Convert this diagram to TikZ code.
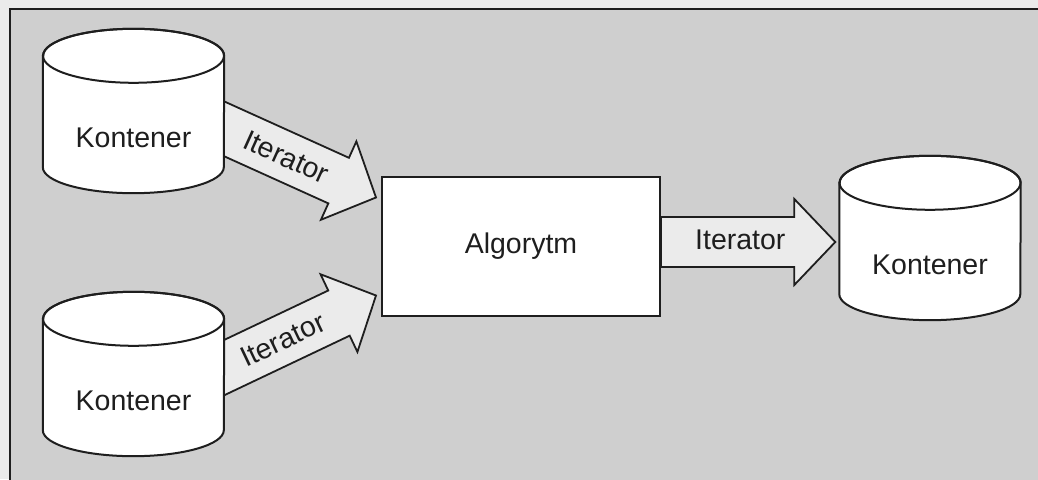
\documentclass[tikz,border=0pt]{standalone}
\usepackage{fontspec}
\setmainfont{Liberation Sans}
\usetikzlibrary{calc}
\definecolor{bgout}{HTML}{EBEBEB}
\definecolor{panel}{HTML}{CFCFCF}
\definecolor{arrowfill}{HTML}{EBEBEB}
\definecolor{ink}{HTML}{1E1E1E}
\pgfdeclarelayer{base}
\pgfdeclarelayer{back}
\pgfdeclarelayer{mid}
\pgfsetlayers{base,back,mid,main}
\newcommand\drawcyl[1]{%
  \path[cylline, fill=white] ($(#1.north west)+(0,23)$) -- ($(#1.south west)+(0,30)$)
    arc[start angle=180,end angle=360,x radius=90.5pt,y radius=26pt]
    -- ($(#1.north east)+(0,23)$)
    arc[start angle=0,end angle=180,x radius=90.5pt,y radius=27pt] -- cycle;
  \draw[cylline] ($(#1.north)+(0,23)$) ellipse[x radius=90.5pt, y radius=27pt];
}
\newcommand\blockarr[2]{%
  \coordinate (hb) at ($(#2)!41pt!(#1)$);
  \draw[blockarrow] ($(#1)!25pt!90:(#2)$) -- ($(hb)!25pt!-90:(#1)$)
    -- ($(hb)!43pt!-90:(#1)$) -- (#2) -- ($(hb)!43pt!90:(#1)$)
    -- ($(hb)!25pt!90:(#1)$) -- ($(#1)!25pt!-90:(#2)$) -- cycle;
}
\begin{document}
\begin{tikzpicture}[x=1pt,y=1pt,
  lbl/.style={font=\fontsize{28.5}{32}\selectfont, text=ink},
  cylbody/.style={minimum width=181pt, minimum height=118pt, inner sep=0pt, lbl},
  algbox/.style={draw=ink, line width=2pt, fill=white, minimum width=278pt, minimum height=139pt, inner sep=0pt, lbl},
  blockarrow/.style={draw=ink, line width=1.8pt, fill=arrowfill, line join=miter},
  cylline/.style={draw=ink, line width=2pt}]
\clip (0,0) rectangle (1038,479);
\useasboundingbox (0,0) rectangle (1038,479);
\begin{pgfonlayer}{base}
  \fill[bgout] (0,0) rectangle (1038,479);
  \filldraw[fill=panel, draw=ink, line width=2pt] (9.5,-20) rectangle (1060,469.5);
\end{pgfonlayer}

\node[algbox] (alg) at (521,232.5) {Algorytm};
\node[cylbody] (k1) at (133.5,341) {Kontener};
\node[cylbody] (k2) at (133.5,78) {Kontener};
\node[cylbody] (k3) at (930,214) {Kontener};

\coordinate (s1) at ($(k1.east)+(-24,20)$);
\coordinate (t1) at ($(alg.west)+(-5,49)$);
\coordinate (s2) at ($(k2.east)+(-24,22)$);
\coordinate (t2) at ($(alg.west)+(-5,-49)$);
\coordinate (s3) at ($(alg.east)+(0,4.5)$);
\coordinate (t3) at ($(k3.west)+(-4,23)$);

\begin{pgfonlayer}{back}
  \blockarr{s1}{t1}
  \blockarr{s2}{t2}
  \blockarr{s3}{t3}
\end{pgfonlayer}
\begin{pgfonlayer}{mid}
  \drawcyl{k1}
  \drawcyl{k2}
  \drawcyl{k3}
\end{pgfonlayer}

\path (s1) -- node[lbl, sloped, pos=0.49] {Iterator} (t1);
\path (s2) -- node[lbl, sloped, pos=0.47] {Iterator} (t2);
\path (s3) -- node[lbl, pos=0.455, yshift=2pt] {Iterator} (t3);
\end{tikzpicture}
\end{document}
